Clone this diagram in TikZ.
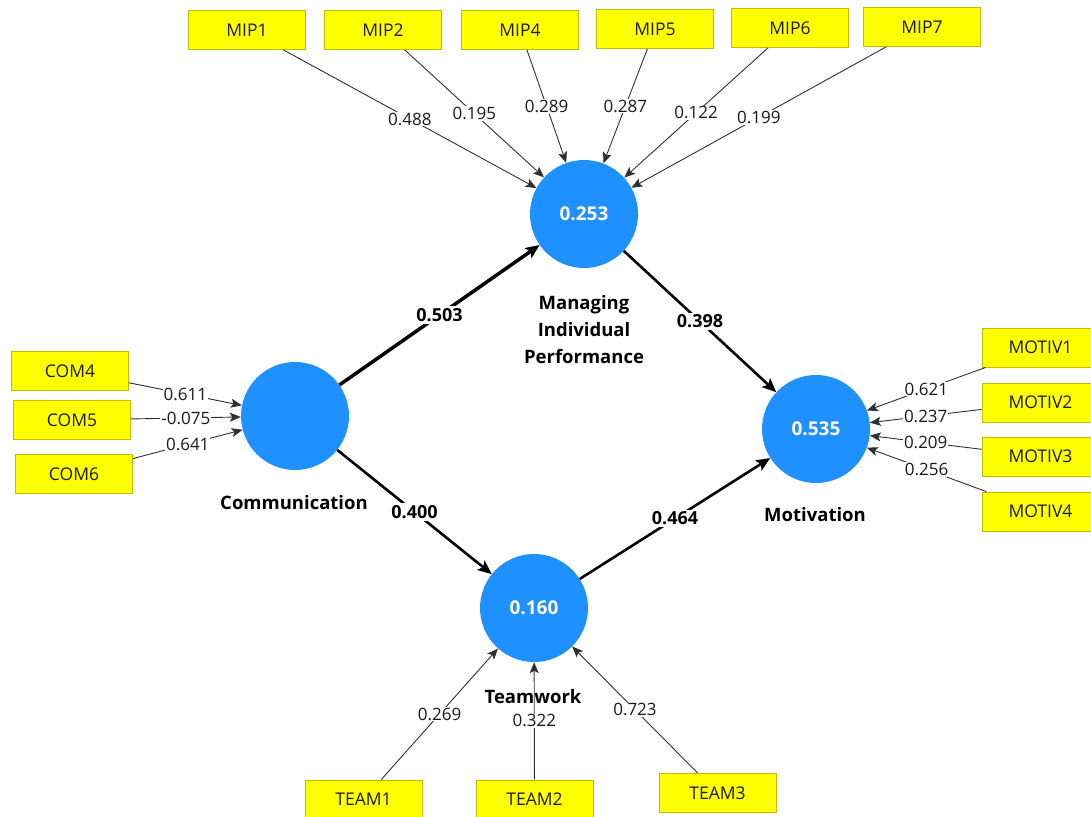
\documentclass[tikz,border=0pt]{standalone}
\usepackage{fontspec}
\setmainfont{Open Sans}
\usetikzlibrary{arrows.meta}
\definecolor{lvblue}{HTML}{1E90FF}
\definecolor{indyellow}{HTML}{FFFF00}
\definecolor{indborder}{HTML}{BDBD00}
\definecolor{lineg}{HTML}{303030}
\begin{document}
\begin{tikzpicture}[x=1pt,y=-1pt,
  lv/.style={circle,fill=lvblue,minimum size=108pt,inner sep=0pt,text=white,font=\fontsize{19}{22}\selectfont\bfseries},
  lvname/.style={align=center,font=\fontsize{18.5}{27}\selectfont\bfseries,text=black},
  ind/.style={rectangle,fill=indyellow,draw=indborder,line width=0.8pt,minimum width=117pt,minimum height=39pt,inner sep=0pt,font=\fontsize{17.5}{20}\selectfont,text=black!90},
  ol/.style={draw=lineg,line width=0.9pt,-{Stealth[length=11pt,width=9pt,inset=2.5pt]}},
  ll/.style={midway,fill=white,inner sep=1pt,font=\fontsize{17}{20}\selectfont,text=black!90},
  sp/.style={draw=black,-{Stealth[length=14pt,width=12pt,inset=3pt]}},
  pl/.style={midway,fill=white,inner sep=2pt,font=\fontsize{18}{21}\selectfont\bfseries}]
\useasboundingbox (0,0) rectangle (1091,816);
\clip (0,0) rectangle (1091,816);
% latent variables
\node[lv] (mip) at (584,214) {0.253};
\node[lv] (com) at (295,416) {};
\node[lv] (mot) at (816,429) {0.535};
\node[lv] (team) at (534,608) {0.160};
% indicators
\node[ind] (mip1) at (247,30) {MIP1};
\node[ind] (mip2) at (383,30) {MIP2};
\node[ind] (mip4) at (520,30) {MIP4};
\node[ind] (mip5) at (655,29) {MIP5};
\node[ind] (mip6) at (790,28) {MIP6};
\node[ind] (mip7) at (922,27) {MIP7};
\node[ind] (com4) at (70,371) {COM4};
\node[ind] (com5) at (72,420) {COM5};
\node[ind] (com6) at (74,474) {COM6};
\node[ind] (mot1) at (1040.5,347.5) {MOTIV1};
\node[ind] (mot2) at (1040.5,402.5) {MOTIV2};
\node[ind] (mot3) at (1040.5,456.5) {MOTIV3};
\node[ind] (mot4) at (1040.5,511.5) {MOTIV4};
\node[ind] (team1) at (363.5,799.5) {TEAM1};
\node[ind] (team2) at (534.5,799.5) {TEAM2};
\node[ind] (team3) at (717.5,793) {TEAM3};
% outer loadings
\draw[ol] (mip1) -- node[ll]{0.488} (mip);
\draw[ol] (mip2) -- node[ll]{0.195} (mip);
\draw[ol] (mip4) -- node[ll]{0.289} (mip);
\draw[ol] (mip5) -- node[ll]{0.287} (mip);
\draw[ol] (mip6) -- node[ll]{0.122} (mip);
\draw[ol] (mip7) -- node[ll]{0.199} (mip);
\draw[ol] (com4) -- node[ll]{0.611} (com);
\draw[ol] (com5) -- node[ll]{-0.075} (com);
\draw[ol] (com6) -- node[ll]{0.641} (com);
\draw[ol] (mot1) -- node[ll]{0.621} (mot);
\draw[ol] (mot2) -- node[ll]{0.237} (mot);
\draw[ol] (mot3) -- node[ll]{0.209} (mot);
\draw[ol] (mot4) -- node[ll]{0.256} (mot);
\draw[ol] (team1) -- node[ll]{0.269} (team);
\draw[ol] (team2) -- node[ll]{0.322} (team);
\draw[ol] (team3) -- node[ll]{0.723} (team);
% structural paths
\draw[sp,line width=3.5pt] (com) -- node[pl]{0.503} (mip);
\draw[sp,line width=2.6pt] (mip) -- node[pl]{0.398} (mot);
\draw[sp,line width=2.6pt] (com) -- node[pl]{0.400} (team);
\draw[sp,line width=2.6pt] (team) -- node[pl]{0.464} (mot);
% latent variable names
\node[lvname] (mipname) at (584,330) {Managing\\Individual\\Performance};
\node[lvname] (comname) at (294,503) {Communication};
\node[lvname] (motname) at (815,515) {Motivation};
\node[lvname] (teamname) at (533,697) {Teamwork};
\end{tikzpicture}
\end{document}
